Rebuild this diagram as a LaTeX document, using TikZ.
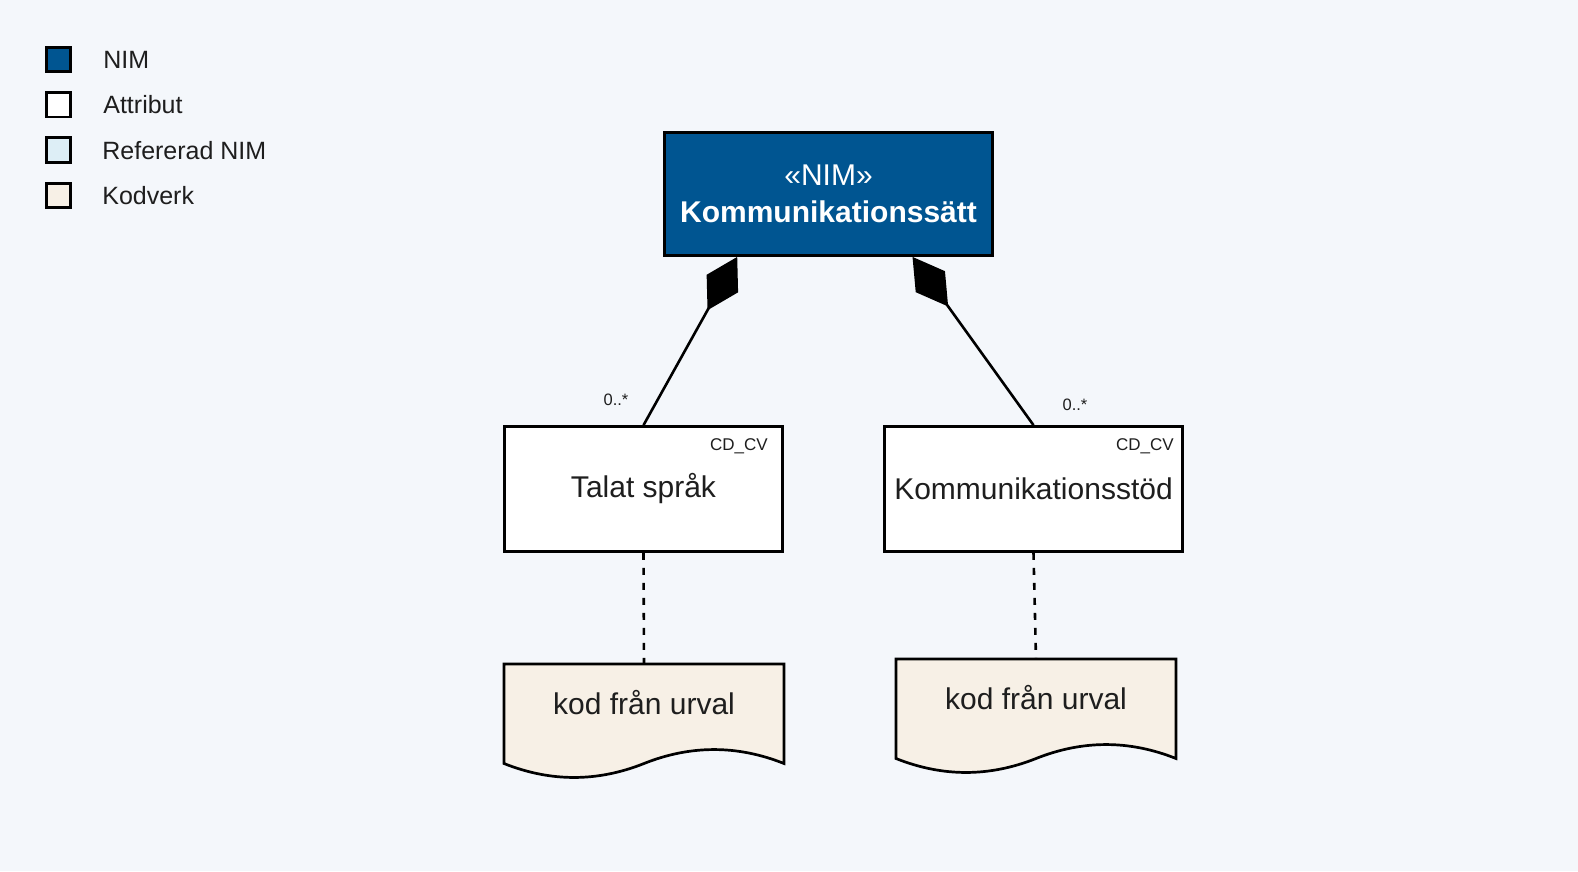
\documentclass[tikz,border=0pt]{standalone}
\usepackage{fontspec}
\setmainfont{Liberation Sans}
\usetikzlibrary{positioning,calc,arrows.meta}

\definecolor{bgcol}{RGB}{244,247,251}
\definecolor{nimblue}{RGB}{0,85,145}
\definecolor{refblue}{RGB}{221,238,246}
\definecolor{kodbeige}{RGB}{247,240,230}
\definecolor{txtcol}{RGB}{30,30,30}

\tikzset{
  legbox/.style={draw=black, line width=2.8pt, minimum size=24.5pt, inner sep=0pt},
  legtext/.style={font=\fontsize{25}{30}\selectfont, text=txtcol, inner sep=0pt},
  nimbox/.style={draw=black, fill=nimblue, line width=2.8pt, text=white, align=center,
    minimum width=328pt, minimum height=123pt, font=\fontsize{30}{37}\selectfont},
  attrbox/.style={draw=black, fill=white, line width=2.7pt, minimum height=125pt,
    font=\fontsize{30}{36}\selectfont, text=txtcol},
  stereo/.style={font=\fontsize{17}{20}\selectfont, text=txtcol, inner sep=0pt, anchor=north east},
  mult/.style={font=\fontsize{16.5}{19}\selectfont, text=txtcol, inner sep=0pt},
  comp/.style={line width=2.6pt, {Diamond[length=61pt,width=36pt]}-},
  link/.style={line width=2.6pt, dash pattern=on 7pt off 8pt},
  kodverk/.pic={
    \coordinate (-top) at (0,0);
    \draw[line width=2.7pt, fill=kodbeige] (-140,0) -- (140,0) -- (140,99.5)
      .. controls (93.3,80.9) and (46.7,80.9) .. (0,99.5)
      .. controls (-46.7,118.1) and (-93.3,118.1) .. (-140,99.5) -- cycle;
    \node[font=\fontsize{30}{36}\selectfont, text=txtcol] (-text) at (0,38.5) {#1};
  }
}

\begin{document}
\begin{tikzpicture}[x=1pt,y=-1pt]
	\fill[bgcol] (0,0) rectangle (1578,871);
	\path[use as bounding box] (0,0) rectangle (1578,871);

	%Legend
	\node[legbox, fill=nimblue] (legNim) at (58.5,59.5) {};
	\node[legbox, fill=white, below=18pt of legNim] (legAttr) {};
	\node[legbox, fill=refblue, below=18pt of legAttr] (legRef) {};
	\node[legbox, fill=kodbeige, below=18pt of legRef] (legKod) {};
	% Text Node
	\node[legtext, right=31pt of legNim] (legNimText) {NIM};
	\node[legtext, right=31pt of legAttr] (legAttrText) {Attribut};
	\node[legtext, right=30pt of legRef] (legRefText) {Refererad NIM};
	\node[legtext, right=30pt of legKod] (legKodText) {Kodverk};

	%Shape: Rectangle
	\node[nimbox] (nim) at (828.5,194) {«NIM»\\\textbf{Kommunikationssätt}};
	\node[attrbox, minimum width=278pt] (tal) at (643.5,489) {Talat språk};
	\node[attrbox, minimum width=298pt] (stod) at (1033.5,489) {Kommunikationsstöd};
	% Text Node
	\node[stereo] (talCd) at ([shift={(-16,13)}]tal.north east) {CD\_CV};
	\node[stereo] (stodCd) at ([shift={(-10,13)}]stod.north east) {CD\_CV};

	%Shape: Document
	\pic (kodA) at (644,664) {kodverk={kod från urval}};
	\pic (kodB) at (1036,659) {kodverk={kod från urval}};

	%Straight Lines
	\coordinate (nimL) at ($(nim.south west)!0.224!(nim.south east)$);
	\coordinate (nimR) at ($(nim.south west)!0.754!(nim.south east)$);
	\draw[comp] (nimL) -- (tal.north);
	\draw[comp] (nimR) -- (stod.north);
	\draw[link] (tal.south) -- (kodA-top);
	\draw[link] (stod.south) -- (kodB-top);

	% Text Node
	\node[mult] (multL) at ([shift={(-27.5,-25)}]tal.north) {0..*};
	\node[mult] (multR) at ([shift={(41.5,-20)}]stod.north) {0..*};
\end{tikzpicture}
\end{document}
